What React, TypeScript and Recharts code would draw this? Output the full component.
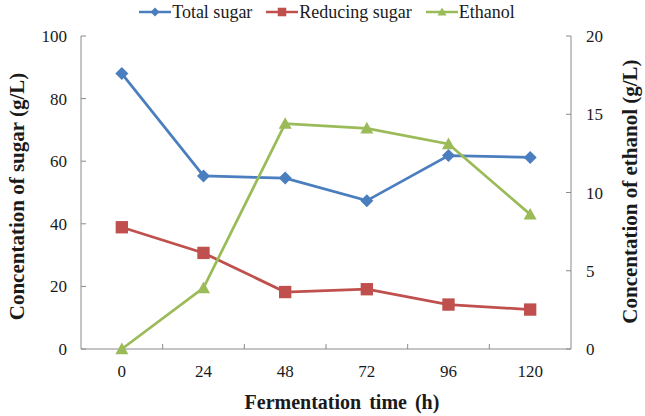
import { LineChart, Line, XAxis, YAxis, Legend } from "recharts";

const TIMES = [0, 24, 48, 72, 96, 120];
const TOTAL_SUGAR = [88.0, 55.3, 54.6, 47.4, 61.8, 61.2];
const REDUCING_SUGAR = [38.9, 30.7, 18.2, 19.1, 14.2, 12.6];
const ETHANOL = [0, 3.9, 14.4, 14.1, 13.1, 8.6];
const SUGAR_TICKS = [0, 20, 40, 60, 80, 100];
const ETHANOL_TICKS = [0, 5, 10, 15, 20];

const FONT = '"Liberation Serif", "Times New Roman", serif';
const AXIS_COLOR = "#8a8a8a";
const TEXT_COLOR = "#1a1a1a";

type Shape = "diamond" | "square" | "triangle";

const SERIES: { key: string; name: string; color: string; shape: Shape; axis: string }[] = [
  { key: "total", name: "Total sugar", color: "#4A7EBF", shape: "diamond", axis: "sugar" },
  { key: "reducing", name: "Reducing sugar", color: "#C0504D", shape: "square", axis: "sugar" },
  { key: "ethanol", name: "Ethanol", color: "#9BBB59", shape: "triangle", axis: "ethanol" },
];

const data = TIMES.map((time, i) => ({
  time,
  total: TOTAL_SUGAR[i],
  reducing: REDUCING_SUGAR[i],
  ethanol: ETHANOL[i],
}));

// tick marks sit between categories, like the original spreadsheet chart
const HALF_STEP = (TIMES[1] - TIMES[0]) / 2;
const X_TICKS = [...TIMES, ...TIMES.slice(1).map((t) => t - HALF_STEP)].sort((a, b) => a - b);

function markerPath(shape: Shape, cx: number, cy: number, r: number) {
  if (shape === "diamond") return `M${cx},${cy - r}L${cx + r},${cy}L${cx},${cy + r}L${cx - r},${cy}Z`;
  if (shape === "square") {
    const s = r * 0.95;
    return `M${cx - s},${cy - s}H${cx + s}V${cy + s}H${cx - s}Z`;
  }
  return `M${cx},${cy - r}L${cx + r},${cy + r * 0.8}L${cx - r},${cy + r * 0.8}Z`;
}

function TimeTick({ x, y, payload }: any) {
  const v = payload.value;
  if (TIMES.includes(v)) {
    return (
      <text x={x} y={y + 22} textAnchor="middle" dominantBaseline="central" fill={TEXT_COLOR} fontSize={17} fontFamily={FONT}>
        {v}
      </text>
    );
  }
  return <line x1={x} x2={x} y1={y} y2={y - 5} stroke={AXIS_COLOR} />;
}

const sideTitle = (text: string, dx: number, dy: number) => ({ viewBox }: any) => {
  const x = viewBox.x + dx;
  const y = viewBox.y + viewBox.height / 2 + dy;
  return (
    <text
      x={x}
      y={y}
      transform={`rotate(-90 ${x} ${y})`}
      textAnchor="middle"
      dominantBaseline="central"
      fontFamily={FONT}
      fontWeight="bold"
      fontSize={21}
      fill={TEXT_COLOR}
    >
      {text}
    </text>
  );
};

const bottomTitle = ({ viewBox }: any) => (
  <text
    x={viewBox.x + viewBox.width / 2 + 16}
    y={viewBox.y + 53}
    textAnchor="middle"
    dominantBaseline="central"
    fontFamily={FONT}
    fontWeight="bold"
    fontSize={20}
    fill={TEXT_COLOR}
    style={{ wordSpacing: 3 }}
  >
    Fermentation time (h)
  </text>
);

function LegendRow() {
  return (
    <div
      style={{
        display: "flex",
        justifyContent: "center",
        alignItems: "center",
        height: 24,
        paddingLeft: 9,
        fontFamily: FONT,
        fontSize: 18,
        color: TEXT_COLOR,
      }}
    >
      {SERIES.map((s, i) => (
        <div key={s.key} style={{ display: "flex", alignItems: "center", marginLeft: i ? 14 : 0 }}>
          <svg width={32} height={14}>
            <line x1={0} x2={32} y1={7} y2={7} stroke={s.color} strokeWidth={2.5} />
            <path d={markerPath(s.shape, 16, 7, 4.5)} fill={s.color} />
          </svg>
          <span style={{ marginLeft: 1 }}>{s.name}</span>
        </div>
      ))}
    </div>
  );
}

export default function App() {
  return (
    <div style={{ position: "absolute", left: 0, top: 0, background: "#fff" }}>
      <LineChart width={645} height={416} data={data} margin={{ top: 12, right: 14, bottom: 17, left: 17 }}>
        <Legend verticalAlign="top" wrapperStyle={{ top: 0, left: 0, width: 645 }} content={() => <LegendRow />} />
        <XAxis
          dataKey="time"
          type="number"
          domain={[TIMES[0] - HALF_STEP, TIMES[TIMES.length - 1] + HALF_STEP]}
          ticks={X_TICKS}
          interval={0}
          tickLine={false}
          tickSize={0}
          tickMargin={0}
          height={50}
          axisLine={{ stroke: AXIS_COLOR }}
          tick={<TimeTick />}
          label={bottomTitle}
        />
        <YAxis
          yAxisId="sugar"
          orientation="left"
          width={64}
          domain={[0, 100]}
          ticks={SUGAR_TICKS}
          interval={0}
          tickSize={-5}
          tickMargin={19}
          axisLine={{ stroke: AXIS_COLOR }}
          tickLine={{ stroke: AXIS_COLOR }}
          tick={{ fill: TEXT_COLOR, fontSize: 17, fontFamily: FONT }}
          label={sideTitle("Concentation of sugar (g/L)", 0, 4)}
        />
        <YAxis
          yAxisId="ethanol"
          orientation="right"
          width={60}
          domain={[0, 20]}
          ticks={ETHANOL_TICKS}
          interval={0}
          tickSize={-5}
          tickMargin={20}
          axisLine={{ stroke: AXIS_COLOR }}
          tickLine={{ stroke: AXIS_COLOR }}
          tick={{ fill: TEXT_COLOR, fontSize: 17, fontFamily: FONT, textAnchor: "start" }}
          label={sideTitle("Concentation of ethanol (g/L)", 59, -1)}
        />
        {SERIES.map((s) => (
          <Line
            key={s.key}
            yAxisId={s.axis}
            dataKey={s.key}
            name={s.name}
            stroke={s.color}
            strokeWidth={2.75}
            isAnimationActive={false}
            activeDot={false}
            dot={(p: any) => <path key={`${s.key}-${p.index}`} d={markerPath(s.shape, p.cx, p.cy, 6.5)} fill={s.color} />}
          />
        ))}
      </LineChart>
    </div>
  );
}
